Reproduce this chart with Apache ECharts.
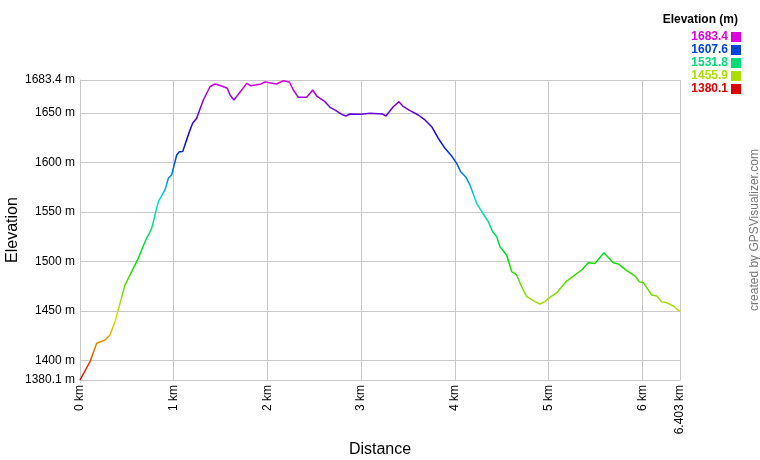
<!DOCTYPE html>
<html>
<head>
<meta charset="utf-8">
<script src="https://cdn.jsdelivr.net/npm/echarts@6/dist/echarts.min.js"></script>
<style>
html,body{margin:0;padding:0;background:#fff;}
#chart{width:760px;height:460px;}
</style>
</head>
<body>
<div id="chart"></div>
<script>
// Distance (km)
const distance = [0,0.107,0.178,0.267,0.32,0.373,0.427,0.48,0.534,0.622,0.694,0.765,0.836,0.907,0.943,0.978,1.032,1.06,1.096,1.167,1.202,1.245,1.316,1.387,1.441,1.512,1.572,1.601,1.643,1.779,1.822,1.921,1.974,2.099,2.17,2.234,2.277,2.33,2.419,2.483,2.526,2.614,2.668,2.732,2.793,2.838,2.881,3.006,3.095,3.23,3.265,3.343,3.404,3.444,3.522,3.61,3.682,3.753,3.824,3.895,3.966,4.02,4.062,4.119,4.162,4.233,4.304,4.357,4.404,4.447,4.482,4.553,4.607,4.66,4.713,4.767,4.855,4.909,4.962,5.015,5.087,5.186,5.264,5.354,5.424,5.496,5.592,5.691,5.745,5.834,5.923,5.969,6.012,6.065,6.101,6.155,6.208,6.261,6.332,6.403];
// Elevation (m)
const elevation = [1380.1,1398.6,1417.2,1420.5,1425.6,1439,1457.6,1476,1486.3,1503.1,1519.9,1533.4,1560.4,1572.2,1584,1587.4,1607.6,1610.9,1611,1631.1,1639.6,1644.7,1663.2,1676.6,1679.4,1677.3,1675,1668.2,1663.2,1680,1677.6,1679,1681.4,1679.4,1682.7,1681.4,1673.3,1665.9,1665.9,1673.3,1667.2,1661.5,1655.8,1652.4,1648.7,1647,1649,1648.7,1649.7,1649,1647,1656.4,1661.5,1657.1,1652.4,1648,1643,1636.2,1624.4,1614.3,1606.6,1599.1,1590.7,1585,1577.2,1558.7,1547.9,1540.2,1530,1525,1514.9,1506.5,1489.6,1486.3,1474.4,1464.3,1459.3,1456.9,1459.3,1463.7,1468.4,1479.5,1485.2,1491.3,1498.7,1498,1508.8,1498.7,1497.4,1490.6,1485.2,1479.5,1478.5,1471.1,1466,1465,1459.3,1458.3,1454.9,1449.2];
// Axis ticks
const xTicks = [0,1,2,3,4,5,6,6.403];
const yTicks = [1380.1,1400,1450,1500,1550,1600,1650,1683.4];
// Colour legend
const legendValues = ['1683.4','1607.6','1531.8','1455.9','1380.1'];
const legendColors = ['#dd00dd','#0044dd','#00dd77','#aadd00','#dd0000'];
const gradientColors = ['#e00000','#e0e000','#00dd00','#00dddd','#0000e0','#dd00dd'];

const chart = echarts.init(document.getElementById('chart'), null, {renderer:'canvas'});
const font = 'Arial, "Liberation Sans", sans-serif';
const grid = '#c8c8c8';

const graphics = [{
  type:'text', right:22, top:14,
  style:{text:'Elevation (m)', font:'bold 12px ' + font, fill:'#000'}
}];
legendValues.forEach((v,i)=>{
  graphics.push({type:'text', right:32, top:31+i*13,
    style:{text:v, font:'bold 12px ' + font, fill:legendColors[i]}});
  graphics.push({type:'rect', shape:{x:731,y:32+i*13,width:10,height:10},
    style:{fill:legendColors[i]}});
});
graphics.push({type:'text', x:755, y:230, rotation:Math.PI/2,
  style:{text:'created by GPSVisualizer.com', font:'12px ' + font, fill:'#777', align:'center', verticalAlign:'middle'}});

chart.setOption({
  animation:false,
  backgroundColor:'#fff',
  textStyle:{fontFamily:font},
  grid:{left:80, right:80, top:80, bottom:80, containLabel:false, outerBoundsMode:'none'},
  xAxis:{
    type:'value', min:0, max:6.403,
    name:'Distance', nameLocation:'middle', nameGap:62, nameMoveOverlap:false,
    nameTextStyle:{fontSize:16, color:'#000', fontFamily:font},
    axisLine:{lineStyle:{color:grid}},
    axisTick:{show:false, customValues:xTicks},
    axisLabel:{customValues:xTicks, rotate:90, fontSize:12, color:'#000', margin:5,
      formatter:v=>v+' km'},
    splitLine:{show:true, lineStyle:{color:grid, width:1}}
  },
  yAxis:{
    type:'value', min:1380.1, max:1683.4,
    name:'Elevation', nameLocation:'middle', nameGap:59, nameMoveOverlap:false,
    nameTextStyle:{fontSize:16, color:'#000', fontFamily:font},
    axisLine:{show:true, lineStyle:{color:grid}},
    axisTick:{show:false, customValues:yTicks},
    axisLabel:{customValues:yTicks, fontSize:12, color:'#000', margin:5,
      formatter:v=>v+' m'},
    splitLine:{show:true, lineStyle:{color:grid, width:1}}
  },
  visualMap:{
    show:false, type:'continuous', dimension:1,
    min:1380.1, max:1683.4,
    inRange:{color:gradientColors}
  },
  graphic:graphics,
  series:[{
    type:'line',
    data:distance.map((d,i)=>[d, elevation[i]]),
    showSymbol:false,
    lineStyle:{width:1.5},
    clip:false
  }]
});
</script>
</body>
</html>
